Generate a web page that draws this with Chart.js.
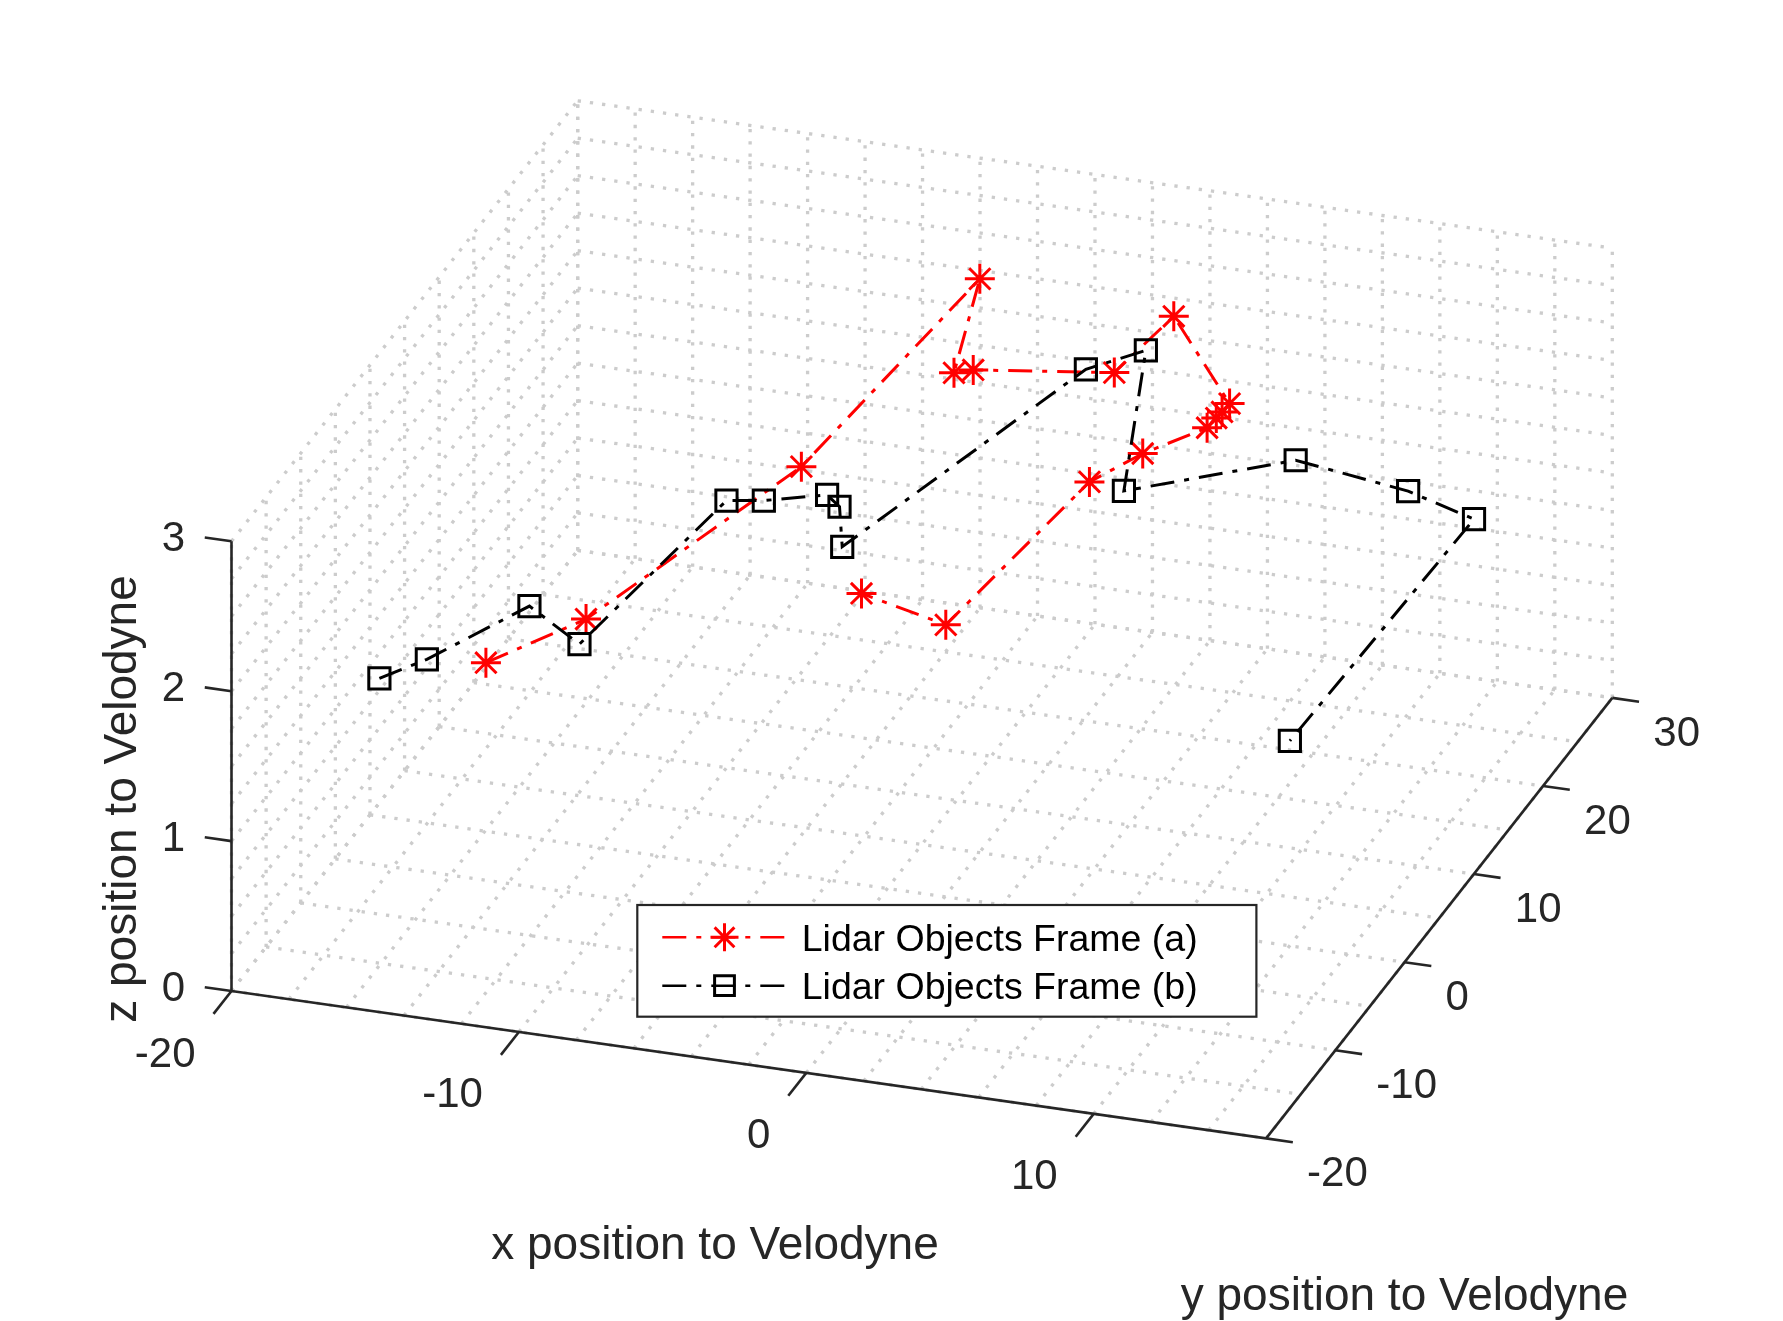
<!DOCTYPE html>
<html>
<head>
<meta charset="utf-8">
<title>Lidar Objects Frame</title>
<script src="https://cdn.jsdelivr.net/npm/chart.js@4.4.1/dist/chart.umd.min.js"></script>
<style>
  html, body { margin: 0; padding: 0; background: #fff; }
  #wrap { position: relative; width: 1783px; height: 1321px; }
</style>
</head>
<body>
<div id="wrap"><canvas id="lidarChart"></canvas></div>
<script>
// dados (x, y, z em relação ao Velodyne)
const frameAX = [-12.74, -10.68, -7.69, -4.88, -5.22, -4.69, -0.21, 2.11, 4.16, 4.13, 4.10, 4.05, 2.67, 1.70, 0.72, -2.69];
const frameAY = [-13.39, -7.48, 11.21, 25.32, 23.00, 23.58, 25.36, 24.32, 23.87, 22.91, 22.20, 21.08, 17.51, 13.84, -2.84, -0.86];
const frameAZ = [2.0, 2.0, 2.0, 2.5, 2.0, 2.0, 2.0, 2.5, 2.0, 2.0, 2.0, 2.0, 2.0, 2.0, 2.0, 2.0];

const frameBX = [-15.69, -14.67, -12.77, -10.27, -9.20, -8.03, -6.19, -5.51, -4.44, -1.18, 0.23, 3.00, 7.62, 11.90, 14.65, 14.34];
const frameBY = [-16.53, -13.91, -6.98, -10.13, 6.66, 7.20, 8.70, 7.67, 3.62, 25.28, 28.09, 13.42, 19.05, 17.53, 15.63, -9.68];
const frameBZ = [2.0, 2.0, 2.0, 2.0, 2.0, 2.0, 2.0, 2.0, 2.0, 2.0, 2.0, 2.0, 2.0, 2.0, 2.0, 2.0];

const seriesLabels = ['Lidar Objects Frame (a)', 'Lidar Objects Frame (b)'];

// eixos
const xTicks = [-20, -10, 0, 10];
const yTicks = [-20, -10, 0, 10, 20, 30];
const zTicks = [0, 1, 2, 3];
const xLimits = [-20, 16];
const yLimits = [-20, 30];
const zLimits = [0, 3];
const minorStep = { x: 2, y: 5, z: 0.25 };
const axisTitles = ['x position to Velodyne', 'y position to Velodyne', 'z position to Velodyne'];

// vista 3D (azimute / elevação) e tamanho da caixa em px
const view = { az: 18.5, el: 25.2, boxXY: 1091, boxZ: 497 };
const origin = { left: 231.5, top: 991 }; // canto (-20, -20, 0) na tela
const W = 1783, H = 1321;

const FONT = '"Liberation Sans", Arial, Helvetica, sans-serif';
const AXIS_COLOR = '#262626';

function project(x, y, z) {
    const az = view.az * Math.PI / 180;
    const el = view.el * Math.PI / 180;
    const px = (x - xLimits[0]) / (xLimits[1] - xLimits[0]) * view.boxXY;
    const py = (y - yLimits[0]) / (yLimits[1] - yLimits[0]) * view.boxXY;
    const pz = (z - zLimits[0]) / (zLimits[1] - zLimits[0]) * view.boxZ;
    return {
        x: Math.cos(az) * px + Math.sin(az) * py,
        y: -Math.sin(el) * Math.sin(az) * px + Math.sin(el) * Math.cos(az) * py + Math.cos(el) * pz
    };
}

function toPoints(xs, ys, zs) {
    return xs.map((x, i) => project(x, ys[i], zs[i]));
}

function pix(chart, x, y, z) {
    const p = project(x, y, z);
    return [chart.scales.x.getPixelForValue(p.x), chart.scales.y.getPixelForValue(p.y)];
}

function line(ctx, a, b) {
    ctx.beginPath();
    ctx.moveTo(a[0], a[1]);
    ctx.lineTo(b[0], b[1]);
    ctx.stroke();
}

function steps(from, to, step) {
    const out = [];
    for (let v = from; v <= to + 1e-9; v += step) out.push(+v.toFixed(4));
    return out;
}

// grade pontilhada nos planos do fundo
const grid3d = {
    id: 'grid3d',
    beforeDatasetsDraw(chart) {
        const ctx = chart.ctx;
        const [x0, x1] = xLimits, [y0, y1] = yLimits, [z0, z1] = zLimits;
        ctx.save();
        ctx.strokeStyle = '#cccccc';
        ctx.lineWidth = 3.3;
        ctx.setLineDash([3.3, 9]);
        steps(x0, x1, minorStep.x).forEach(v => {
            line(ctx, pix(chart, v, y0, z0), pix(chart, v, y1, z0));
            line(ctx, pix(chart, v, y1, z0), pix(chart, v, y1, z1));
        });
        steps(y0, y1, minorStep.y).forEach(v => {
            line(ctx, pix(chart, x0, v, z0), pix(chart, x1, v, z0));
            line(ctx, pix(chart, x0, v, z0), pix(chart, x0, v, z1));
        });
        steps(z0, z1, minorStep.z).forEach(v => {
            line(ctx, pix(chart, x0, y1, v), pix(chart, x1, y1, v));
            line(ctx, pix(chart, x0, y0, v), pix(chart, x0, y1, v));
        });
        ctx.restore();

        // linhas dos eixos e marcas
        const [xa, xb] = xLimits, [ya, yb] = yLimits, [za, zb] = zLimits;
        ctx.save();
        ctx.strokeStyle = AXIS_COLOR;
        ctx.fillStyle = AXIS_COLOR;
        ctx.lineWidth = 2.6;
        ctx.lineCap = 'butt';
        line(ctx, pix(chart, xa, ya, za), pix(chart, xb, ya, za));
        line(ctx, pix(chart, xb, ya, za), pix(chart, xb, yb, za));
        line(ctx, pix(chart, xa, ya, za), pix(chart, xa, ya, zb));

        ctx.font = '42px ' + FONT;
        ctx.textBaseline = 'alphabetic';

        ctx.textAlign = 'right';
        xTicks.forEach(v => {
            const t = pix(chart, v, ya, za);
            line(ctx, t, pix(chart, v, ya - 2.6, za));
            ctx.fillText(String(v), t[0] - 36, t[1] + 75.5);
        });

        ctx.textAlign = 'left';
        yTicks.forEach(v => {
            const t = pix(chart, xb, v, za);
            line(ctx, t, pix(chart, xb + 0.93, v, za));
            ctx.fillText(String(v), t[0] + 41, t[1] + 48);
        });

        ctx.textAlign = 'right';
        zTicks.forEach(v => {
            const t = pix(chart, xa, ya, v);
            line(ctx, t, pix(chart, xa - 0.93, ya, v));
            ctx.fillText(String(v), t[0] - 46.5, t[1] + 10);
        });

        // títulos dos eixos
        ctx.font = '46px ' + FONT;
        ctx.textAlign = 'center';
        ctx.fillText(axisTitles[0], 715, 1259);
        ctx.fillText(axisTitles[1], 1404.5, 1310);
        ctx.translate(136, 799);
        ctx.rotate(-Math.PI / 2);
        ctx.fillText(axisTitles[2], 0, 0);
        ctx.restore();
    }
};

// legenda dentro da caixa (como no MATLAB)
const legendBox = {
    id: 'legendBox',
    afterDraw(chart) {
        const ctx = chart.ctx;
        const box = { left: 637.3, top: 905, right: 1256.4, bottom: 1016.7 };
        const rows = [937.3, 985.7];
        ctx.save();
        ctx.fillStyle = '#ffffff';
        ctx.fillRect(box.left, box.top, box.right - box.left, box.bottom - box.top);
        ctx.strokeStyle = AXIS_COLOR;
        ctx.lineWidth = 2.2;
        ctx.strokeRect(box.left, box.top, box.right - box.left, box.bottom - box.top);

        chart.data.datasets.forEach((ds, i) => {
            const y = rows[i];
            ctx.save();
            ctx.strokeStyle = ds.borderColor;
            ctx.lineWidth = ds.borderWidth - 0.6;
            ctx.setLineDash(ds.borderDash);
            line(ctx, [662.3, y], [786.7, y]);
            ctx.restore();

            ctx.save();
            ctx.strokeStyle = ds.pointBorderColor;
            ctx.fillStyle = 'rgba(0,0,0,0)';
            ctx.lineWidth = ds.pointBorderWidth;
            const opts = { pointStyle: ds.pointStyle, rotation: 0, radius: ds.pointRadius - 1, borderWidth: ds.pointBorderWidth };
            if (Chart.helpers && Chart.helpers.drawPoint) {
                Chart.helpers.drawPoint(ctx, opts, 724.5, y);
            }
            ctx.restore();

            ctx.fillStyle = '#000000';
            ctx.font = '37.5px ' + FONT;
            ctx.textAlign = 'left';
            ctx.textBaseline = 'alphabetic';
            ctx.fillText(ds.label, 801.7, y + 13.4);
        });
        ctx.restore();
    }
};

const ctx = document.getElementById('lidarChart').getContext('2d');
const chart = new Chart(ctx, {
    type: 'scatter',
    data: {
        datasets: [{
            label: seriesLabels[0],
            data: toPoints(frameAX, frameAY, frameAZ),
            showLine: true,
            borderColor: '#ff0000',
            borderWidth: 3,
            borderDash: [24, 10, 5, 10],
            pointStyle: 'star',
            pointRadius: 15,
            pointBorderColor: '#ff0000',
            pointBackgroundColor: 'rgba(0,0,0,0)',
            pointBorderWidth: 3,
            order: 1
        }, {
            label: seriesLabels[1],
            data: toPoints(frameBX, frameBY, frameBZ),
            showLine: true,
            borderColor: '#000000',
            borderWidth: 3,
            borderDash: [24, 10, 5, 10],
            pointStyle: 'rect',
            pointRadius: 15,
            pointBorderColor: '#000000',
            pointBackgroundColor: 'rgba(0,0,0,0)',
            pointBorderWidth: 3,
            order: 0
        }]
    },
    options: {
        responsive: true,
        maintainAspectRatio: false,
        devicePixelRatio: 1,
        animation: false,
        events: [],
        layout: { padding: 0, autoPadding: false },
        scales: {
            x: { type: 'linear', display: false, min: -origin.left, max: W - origin.left },
            y: { type: 'linear', display: false, min: origin.top - H, max: origin.top }
        },
        plugins: {
            legend: { display: false },
            tooltip: { enabled: false }
        }
    },
    plugins: [grid3d, legendBox]
});
</script>
</body>
</html>
